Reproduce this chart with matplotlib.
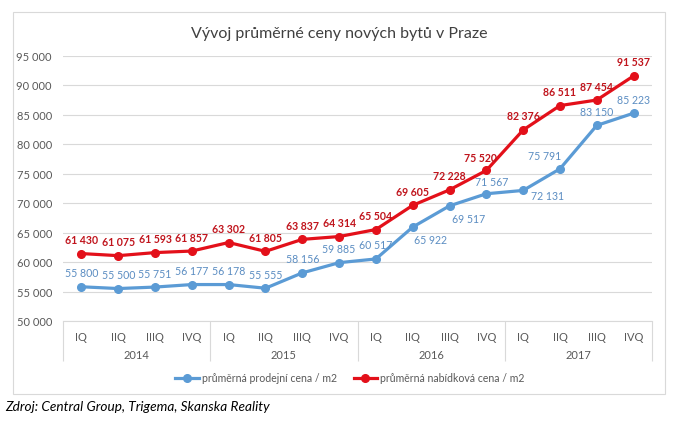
import matplotlib.pyplot as plt
from matplotlib.patches import Rectangle
import matplotlib.transforms as mtransforms

plt.rcParams['font.family'] = ['Lato', 'DejaVu Sans']

quarters = ['IQ', 'IIQ', 'IIIQ', 'IVQ'] * 4
years = ['2014', '2015', '2016', '2017']

prodejni = [55800, 55500, 55751, 56177, 56178, 55555, 58156, 59885,
            60517, 65922, 69517, 71567, 72131, 75791, 83150, 85223]
nabidkova = [61430, 61075, 61593, 61857, 63302, 61805, 63837, 64314,
             65504, 69605, 72228, 75520, 82376, 86511, 87454, 91537]

blue = '#5B9BD5'
blue_txt = '#5B8DC2'
red = '#E3101A'
red_txt = '#C0141C'
grey = '#595959'
grid = '#D9D9D9'


def fmt(v):
    return f'{v:,}'.replace(',', ' ')


fig = plt.figure(figsize=(6.82, 4.27), dpi=100)
ax = fig.add_axes([63/682, 1 - 322/427, 589/682, 265.5/427])

# outer chart frame
fig.patches.append(Rectangle((13/682, 1 - 395/427), 652/682, 382/427,
                             transform=fig.transFigure, fill=False,
                             edgecolor='#D9D9D9', lw=0.8))

x = list(range(len(quarters)))
ax.plot(x, prodejni, color=blue, lw=2.3, marker='o', ms=5.5,
        label='průměrná prodejní cena / m2', zorder=3)
ax.plot(x, nabidkova, color=red, lw=2.3, marker='o', ms=5.5,
        label='průměrná nabídková cena / m2', zorder=3)

# label offsets in pixels (default: above the point)
blue_off = {9: (18, -12), 10: (19, -13), 11: (5, 12), 12: (24, -5), 13: (-15, 13)}
red_off = {11: (-6, 13)}
for i, v in enumerate(prodejni):
    dx, dy = blue_off.get(i, (0, 14))
    ax.annotate(fmt(v), (i, v), xytext=(dx, dy), textcoords='offset pixels',
                ha='center', va='center', fontsize=7.6, color=blue_txt)
for i, v in enumerate(nabidkova):
    dx, dy = red_off.get(i, (0, 14))
    ax.annotate(fmt(v), (i, v), xytext=(dx, dy), textcoords='offset pixels',
                ha='center', va='center', fontsize=7.6, color=red_txt,
                fontweight='bold')

ax.set_xlim(-0.5, 15.5)
ax.set_ylim(50000, 95000)
ax.set_yticks(range(50000, 95001, 5000))
ax.set_yticklabels([fmt(v) for v in range(50000, 95001, 5000)])
ax.yaxis.grid(True, color=grid, lw=0.8)
ax.set_axisbelow(True)
for s in ['top', 'right', 'left']:
    ax.spines[s].set_visible(False)
ax.spines['bottom'].set_color(grid)

ax.set_xticks(x)
ax.set_xticklabels(quarters)
ax.set_xticks([-0.5, 3.5, 7.5, 11.5, 15.5], minor=True)
ax.tick_params(axis='x', which='major', length=0, pad=7, labelsize=8, labelcolor=grey)
ax.tick_params(axis='x', which='minor', length=29, color=grid, width=0.8)
ax.tick_params(axis='y', length=0, pad=8, labelsize=8, labelcolor=grey)

trans = mtransforms.blended_transform_factory(ax.transData, ax.transAxes)
for k, yr in enumerate(years):
    ax.text(4 * k + 1.5, -0.128, yr, transform=trans, ha='center', va='center',
            fontsize=8, color=grey)

fig.text(339/682, 1 - 34/427, 'Vývoj průměrné ceny nových bytů v Praze',
         ha='center', va='center', fontsize=11.5, color='#404040')

fig.legend(loc='center', bbox_to_anchor=(350/682, 1 - 379/427), ncol=2,
           frameon=False, fontsize=7.6, labelcolor=grey, handlelength=2.2,
           handletextpad=0.3, columnspacing=1.6)

fig.text(5/682, 1 - 407/427, 'Zdroj: Central Group, Trigema, Skanska Reality',
         ha='left', va='center', fontsize=9.8, style='italic', color='black')

fig.savefig('out.png', dpi=100)
